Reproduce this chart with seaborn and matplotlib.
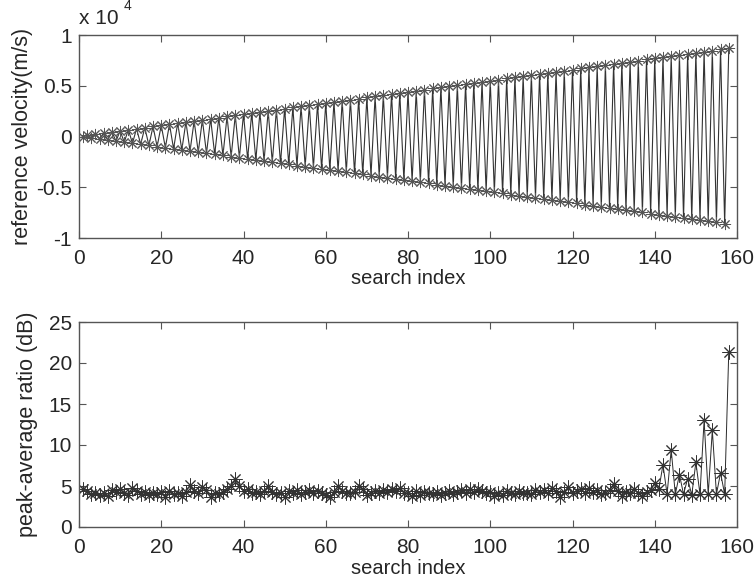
import matplotlib
matplotlib.use("Agg")
import matplotlib.pyplot as plt
import seaborn as sns
import pandas as pd
import numpy as np

# ---- data ----
search_index_top = list(range(1, 159))
reference_velocity = [
    0, 110, -110, 220, -220, 330, -330, 440, -440, 550, -550, 660, -660, 770, -770,
    880, -880, 990, -990, 1100, -1100, 1210, -1210, 1320, -1320, 1430, -1430, 1540, -1540,
    1650, -1650, 1760, -1760, 1870, -1870, 1980, -1980, 2090, -2090, 2200, -2200,
    2310, -2310, 2420, -2420, 2530, -2530, 2640, -2640, 2750, -2750, 2860, -2860,
    2970, -2970, 3080, -3080, 3190, -3190, 3300, -3300, 3410, -3410, 3520, -3520,
    3630, -3630, 3740, -3740, 3850, -3850, 3960, -3960, 4070, -4070, 4180, -4180,
    4290, -4290, 4400, -4400, 4510, -4510, 4620, -4620, 4730, -4730, 4840, -4840,
    4950, -4950, 5060, -5060, 5170, -5170, 5280, -5280, 5390, -5390, 5500, -5500,
    5610, -5610, 5720, -5720, 5830, -5830, 5940, -5940, 6050, -6050, 6160, -6160,
    6270, -6270, 6380, -6380, 6490, -6490, 6600, -6600, 6710, -6710, 6820, -6820,
    6930, -6930, 7040, -7040, 7150, -7150, 7260, -7260, 7370, -7370, 7480, -7480,
    7590, -7590, 7700, -7700, 7810, -7810, 7920, -7920, 8030, -8030, 8140, -8140,
    8250, -8250, 8360, -8360, 8470, -8470, 8580, -8580, 8690,
]

search_index_bottom = list(range(1, 159))
peak_average_ratio = [
    4.6, 4.4, 4.0, 4.2, 3.9, 4.1, 3.8, 4.5, 4.3, 4.6,
    4.2, 3.9, 4.8, 4.4, 4.0, 4.3, 3.9, 4.2, 4.0, 4.3,
    3.7, 4.4, 4.0, 4.1, 3.8, 4.3, 5.1, 4.4, 4.2, 4.9,
    4.5, 3.6, 4.2, 4.0, 4.3, 4.6, 5.0, 5.8, 5.0, 4.4,
    4.6, 4.1, 4.3, 4.0, 4.4, 5.0, 4.3, 4.0, 4.2, 3.7,
    4.4, 4.2, 4.5, 4.0, 4.3, 4.5, 4.1, 4.4, 4.2, 3.9,
    3.6, 4.3, 5.0, 4.4, 4.2, 4.1, 4.3, 5.0, 4.6, 3.9,
    4.2, 4.4, 4.2, 4.5, 4.3, 4.6, 4.4, 4.7, 4.2, 4.1,
    3.8, 4.4, 3.9, 4.3, 4.1, 4.0, 4.3, 3.9, 4.2, 4.4,
    4.0, 4.3, 4.5, 4.2, 4.6, 4.3, 4.6, 4.4, 4.2, 4.3,
    3.8, 4.2, 3.9, 4.4, 4.2, 4.0, 4.4, 4.1, 4.2, 4.0,
    4.5, 4.3, 4.5, 4.1, 4.7, 4.4, 3.6, 4.3, 4.9, 4.2,
    4.4, 4.6, 4.1, 4.7, 4.3, 4.5, 4.0, 4.2, 4.5, 5.3,
    4.4, 3.8, 4.3, 4.2, 4.6, 4.1, 3.8, 4.3, 4.5, 5.4,
    4.6, 7.6, 4.0, 9.4, 4.0, 6.4, 4.0, 5.9, 3.9, 7.9,
    4.0, 13.0, 4.0, 11.8, 4.0, 6.6, 4.0, 21.4,
]

xticks = [0, 20, 40, 60, 80, 100, 120, 140, 160]
top_yticks = [-10000, -5000, 0, 5000, 10000]
top_yticklabels = ["-1", "-0.5", "0", "0.5", "1"]
bottom_yticks = [0, 5, 10, 15, 20, 25]

# ---- style ----
sns.set_style("white")
plt.rcParams["font.family"] = ["Liberation Sans", "DejaVu Sans"]
plt.rcParams["font.size"] = 14

fig = plt.figure(figsize=(7.54, 5.86), dpi=100)
ax1 = fig.add_axes([79 / 754, 1 - 238 / 586, 658 / 754, 203 / 586])
ax2 = fig.add_axes([79 / 754, 1 - 527 / 586, 658 / 754, 205 / 586])

asterisk = (8, 2, 0)
line_color = "#2a2a2a"

df_top = pd.DataFrame({"idx": search_index_top, "v": reference_velocity})
df_bot = pd.DataFrame({"idx": search_index_bottom, "r": peak_average_ratio})

sns.lineplot(data=df_top, x="idx", y="v", ax=ax1, color="#333333", lw=0.8,
             marker=asterisk, markersize=8, markeredgewidth=0.7,
             markeredgecolor="#555555", markerfacecolor="none", sort=False)
sns.lineplot(data=df_bot, x="idx", y="r", ax=ax2, color=line_color, lw=0.7,
             marker=asterisk, markersize=10, markeredgewidth=0.7,
             markeredgecolor="#333333", markerfacecolor="none", sort=False)

for ax in (ax1, ax2):
    ax.set_xlim(0, 160)
    ax.set_xticks(xticks)
    ax.set_xticklabels([str(t) for t in xticks])
    ax.set_xlabel("search index", fontsize=14.5, labelpad=1)
    for s in ax.spines.values():
        s.set_color("#555555")
        s.set_linewidth(1.0)
        s.set_visible(True)
    ax.tick_params(direction="in", length=5, width=0.8, color="#555555",
                   top=True, right=True, bottom=True, left=True,
                   labelsize=15)
    ax.tick_params(axis="x", pad=8)
    ax.tick_params(axis="y", pad=5)
    ax.grid(False)

ax1.set_ylim(-10000, 10000)
ax1.set_yticks(top_yticks)
ax1.set_yticklabels(top_yticklabels)
ax1.set_ylabel("reference velocity(m/s)", fontsize=15.5, labelpad=2)
ax1.text(0.0, 1.035, "x 10", transform=ax1.transAxes, fontsize=15, ha="left", va="bottom")
ax1.text(0.068, 1.11, "4", transform=ax1.transAxes, fontsize=10, ha="left", va="bottom")

ax2.set_ylim(0, 25)
ax2.set_yticks(bottom_yticks)
ax2.set_yticklabels([str(t) for t in bottom_yticks])
ax2.set_ylabel("peak-average ratio (dB)", fontsize=15.5, labelpad=8)

fig.savefig("out.png", dpi=100, facecolor="white")
